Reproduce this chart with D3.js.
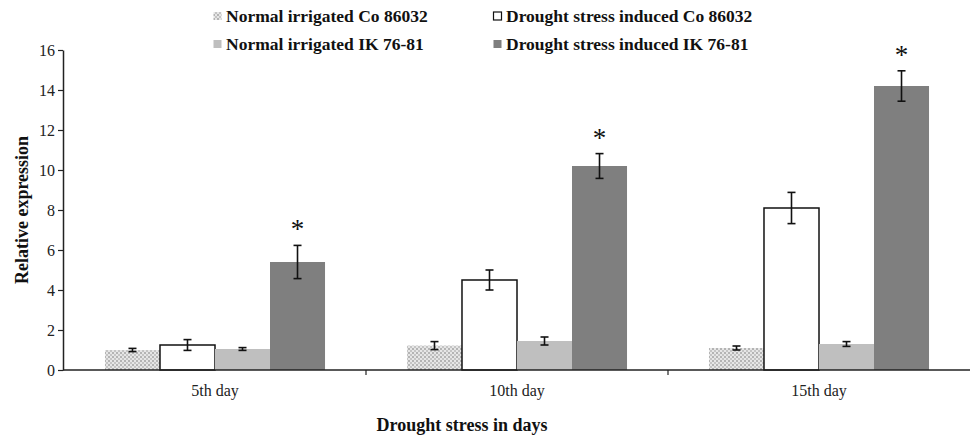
<!DOCTYPE html>
<html>
<head>
<meta charset="utf-8">
<script src="https://cdn.jsdelivr.net/npm/d3@7"></script>
<style>
  body { margin: 0; background: #fff; }
  svg { display: block; font-family: "Liberation Serif", "Times New Roman", serif; }
</style>
</head>
<body>
<div id="chart"></div>
<script>
// chart values
const days = ["5th day", "10th day", "15th day"];
const seriesNames = [
  "Normal irrigated Co 86032",
  "Drought stress induced Co 86032",
  "Normal irrigated IK 76-81",
  "Drought stress induced IK 76-81"
];
const normalCo = [1.0, 1.22, 1.1];
const droughtCo = [1.25, 4.5, 8.1];
const normalIK = [1.05, 1.45, 1.3];
const droughtIK = [5.4, 10.2, 14.2];
const errNormalCo = [0.08, 0.2, 0.1];
const errDroughtCo = [0.27, 0.5, 0.78];
const errNormalIK = [0.07, 0.2, 0.12];
const errDroughtIK = [0.83, 0.62, 0.76];
const yTicks = [0, 2, 4, 6, 8, 10, 12, 14, 16];
const marked = [true, true, true]; // asterisk over drought IK bars

const values = [normalCo, droughtCo, normalIK, droughtIK];
const errors = [errNormalCo, errDroughtCo, errNormalIK, errDroughtIK];

const width = 975, height = 439;
const margin = { top: 50, right: 5, bottom: 69, left: 64 };

const svg = d3.select("#chart").append("svg")
  .attr("width", width)
  .attr("height", height);

// dotted fill for first series
const defs = svg.append("defs");
const pat = defs.append("pattern")
  .attr("id", "dots")
  .attr("patternUnits", "userSpaceOnUse")
  .attr("width", 4)
  .attr("height", 4);
pat.append("rect").attr("width", 4).attr("height", 4).attr("fill", "#e6e6e6");
pat.append("rect").attr("x", 0).attr("y", 0).attr("width", 2).attr("height", 2).attr("fill", "#b4b4b4");
pat.append("rect").attr("x", 2).attr("y", 2).attr("width", 2).attr("height", 2).attr("fill", "#c4c4c4");

const fills = ["url(#dots)", "#ffffff", "#bfbfbf", "#7f7f7f"];
const strokes = ["none", "#111", "none", "none"];

const x0 = d3.scaleBand()
  .domain(days)
  .range([margin.left, width - margin.right])
  .paddingInner(0)
  .paddingOuter(0);

const x1 = d3.scaleBand()
  .domain(d3.range(seriesNames.length))
  .range([0, x0.bandwidth()])
  .paddingInner(0)
  .paddingOuter(0.745);

const y = d3.scaleLinear()
  .domain([0, 16])
  .range([height - margin.bottom, margin.top]);

// bars
const rows = [];
days.forEach((d, i) => {
  seriesNames.forEach((s, j) => {
    rows.push({ day: d, s: j, v: values[j][i], e: errors[j][i], mark: j === 3 && marked[i] });
  });
});

const g = svg.append("g");

g.selectAll("rect.bar")
  .data(rows)
  .enter()
  .append("rect")
  .attr("class", "bar")
  .attr("x", d => x0(d.day) + x1(d.s))
  .attr("y", d => y(d.v))
  .attr("width", x1.bandwidth())
  .attr("height", d => y(0) - y(d.v))
  .attr("fill", d => fills[d.s])
  .attr("stroke", d => strokes[d.s])
  .attr("stroke-width", 1.5);

// error bars
const eb = g.selectAll("g.err")
  .data(rows)
  .enter()
  .append("g")
  .attr("class", "err")
  .attr("stroke", "#111")
  .attr("stroke-width", 1.6);

const cx = d => x0(d.day) + x1(d.s) + x1.bandwidth() / 2;
eb.append("line")
  .attr("x1", cx).attr("x2", cx)
  .attr("y1", d => y(d.v + d.e)).attr("y2", d => y(d.v - d.e));
eb.append("line")
  .attr("x1", d => cx(d) - 4).attr("x2", d => cx(d) + 4)
  .attr("y1", d => y(d.v + d.e)).attr("y2", d => y(d.v + d.e));
eb.append("line")
  .attr("x1", d => cx(d) - 4).attr("x2", d => cx(d) + 4)
  .attr("y1", d => y(d.v - d.e)).attr("y2", d => y(d.v - d.e));

// asterisks
g.selectAll("text.star")
  .data(rows.filter(d => d.mark))
  .enter()
  .append("text")
  .attr("class", "star")
  .attr("x", cx)
  .attr("y", d => y(d.v + d.e) - 7)
  .attr("text-anchor", "middle")
  .attr("font-size", 27)
  .attr("fill", "#111")
  .text("*");

// y axis
const yAxis = svg.append("g")
  .attr("transform", `translate(${margin.left - 1},0)`)
  .call(d3.axisLeft(y).tickValues(yTicks).tickSize(5).tickSizeOuter(0));
yAxis.select(".domain").attr("stroke", "#222").attr("stroke-width", 1.5);
yAxis.selectAll(".tick line").attr("stroke", "#222").attr("stroke-width", 1.2);
yAxis.selectAll("text")
  .attr("font-family", "Liberation Serif, Times New Roman, serif")
  .attr("font-size", 16)
  .attr("fill", "#222")
  .attr("x", -8);

// x axis
const xAxisG = svg.append("g")
  .attr("transform", `translate(0,${y(0)})`);
xAxisG.append("line")
  .attr("x1", margin.left - 1)
  .attr("x2", width - margin.right)
  .attr("stroke", "#222")
  .attr("stroke-width", 1.5);
xAxisG.selectAll("line.sep")
  .data(days.slice(1))
  .enter()
  .append("line")
  .attr("class", "sep")
  .attr("x1", d => x0(d)).attr("x2", d => x0(d))
  .attr("y1", 0).attr("y2", 5)
  .attr("stroke", "#222")
  .attr("stroke-width", 1.2);
xAxisG.selectAll("text")
  .data(days)
  .enter()
  .append("text")
  .attr("x", d => x0(d) + x0.bandwidth() / 2)
  .attr("y", 26)
  .attr("text-anchor", "middle")
  .attr("font-size", 16)
  .attr("fill", "#222")
  .text(d => d);

// axis titles
svg.append("text")
  .attr("x", 462)
  .attr("y", 431)
  .attr("text-anchor", "middle")
  .attr("font-size", 18)
  .attr("font-weight", "bold")
  .attr("fill", "#111")
  .text("Drought stress in days");

svg.append("text")
  .attr("transform", "translate(28,210) rotate(-90)")
  .attr("text-anchor", "middle")
  .attr("font-size", 18)
  .attr("font-weight", "bold")
  .attr("fill", "#111")
  .text("Relative expression");

// legend
const legendPos = [
  { x: 213, y: 22 }, { x: 493, y: 22 },
  { x: 213, y: 50 }, { x: 493, y: 50 }
];
const legend = svg.append("g").selectAll("g")
  .data(seriesNames)
  .enter()
  .append("g")
  .attr("transform", (d, i) => `translate(${legendPos[i].x},${legendPos[i].y})`);
legend.append("rect")
  .attr("x", 0.5)
  .attr("y", -10)
  .attr("width", 8)
  .attr("height", 8)
  .attr("fill", (d, i) => fills[i])
  .attr("stroke", (d, i) => i === 1 ? "#111" : "none")
  .attr("stroke-width", 1.2);
legend.append("text")
  .attr("x", 13)
  .attr("font-size", 17.5)
  .attr("font-weight", "bold")
  .attr("fill", "#111")
  .text(d => d);
</script>
</body>
</html>
